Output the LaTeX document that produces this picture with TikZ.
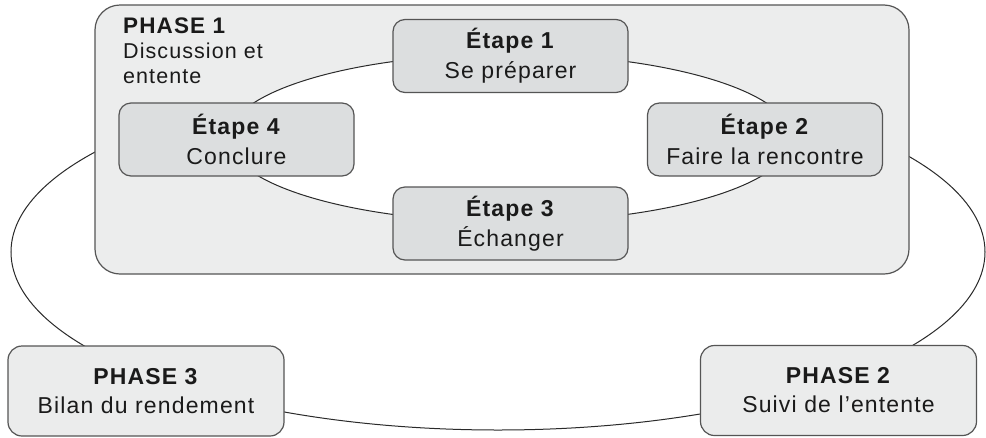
\documentclass[tikz,border=0pt]{standalone}
\usepackage{fontspec}
\setmainfont{Liberation Sans}[LetterSpace=5]
\definecolor{phasebg}{HTML}{ECEDED}
\definecolor{etapebg}{HTML}{DCDEDF}
\definecolor{outerbg}{HTML}{EBECEC}
\definecolor{edge}{HTML}{555555}
\definecolor{ink}{HTML}{1A1A1A}
\definecolor{ring}{HTML}{2A2A2A}
\tikzset{
  etapebox/.style={draw=edge, line width=1.2pt, fill=etapebg, rounded corners=12pt,
    minimum width=235pt, minimum height=73pt, inner sep=0pt, align=center,
    text=ink, font=\fontsize{23pt}{30pt}\selectfont},
  phasebox/.style={draw=edge, line width=1.2pt, fill=outerbg, rounded corners=14pt,
    minimum width=276pt, minimum height=90pt, inner sep=0pt, align=center,
    text=ink, font=\fontsize{23pt}{29pt}\selectfont},
  bigbox/.style={draw=edge, line width=1.2pt, fill=phasebg, rounded corners=25pt,
    minimum width=814pt, minimum height=269pt, inner sep=0pt},
  ringline/.style={draw=ring, line width=1pt},
  lbl/.style={anchor=base west, inner sep=0pt, text=ink}
}
\begin{document}
\begin{tikzpicture}[x=1pt,y=-1pt]
\useasboundingbox[fill=white] (0,0) rectangle (986,437);
% outer cycle
\coordinate (oc) at (498,252);
\draw[ringline] (oc) ellipse [x radius=487pt, y radius=178pt];
% phase 1 container
\node[bigbox] (phase1) at (502,139.5) {};
\node[lbl, font=\fontsize{22.5pt}{25pt}\selectfont\bfseries] (p1t) at (123,33) {PHASE 1};
\node[lbl, font=\fontsize{21.5pt}{25pt}\selectfont] (p1a) at (123,58) {Discussion et};
\node[lbl, font=\fontsize{21.5pt}{25pt}\selectfont] (p1b) at (123,83) {entente};
% inner cycle
\coordinate (ic) at (510,138);
\draw[ringline, fill=white] (ic) ellipse [x radius=282pt, y radius=84pt];
% steps
\node[etapebox] (e1) at (510.5,56) {\textbf{Étape 1}\\Se préparer};
\node[etapebox] (e2) at (765,139.5) {\textbf{Étape 2}\\Faire la rencontre};
\node[etapebox] (e3) at (510.5,223.5) {\textbf{Étape 3}\\Échanger};
\node[etapebox] (e4) at (236.5,139.5) {\textbf{Étape 4}\\Conclure};
% phases 2 and 3
\node[phasebox] (p2) at (838.5,390.5) {\textbf{PHASE 2}\\Suivi de l’entente};
\node[phasebox] (p3) at (146,391) {\textbf{PHASE 3}\\Bilan du rendement};
\end{tikzpicture}
\end{document}
